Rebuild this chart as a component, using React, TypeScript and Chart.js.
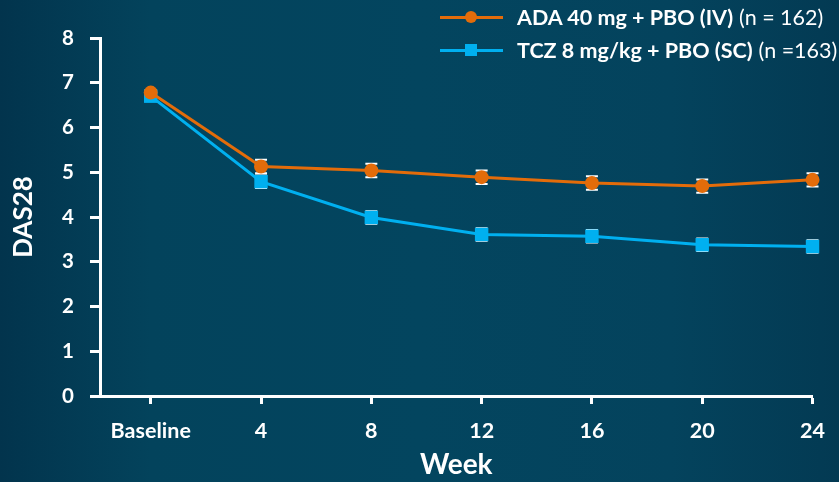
import React, { useEffect, useRef } from "react";
import { Chart, registerables } from "chart.js";

Chart.register(...registerables);

const categories = ["Baseline", "4", "8", "12", "16", "20", "24"];
const weeks = [0, 4, 8, 12, 16, 20, 24];
const adaValues = [6.78, 5.13, 5.04, 4.89, 4.76, 4.69, 4.83];
const adaErrors = [0.06, 0.15, 0.15, 0.15, 0.15, 0.15, 0.15];
const tczValues = [6.7, 4.79, 3.99, 3.61, 3.57, 3.38, 3.34];
const tczErrors = [0.06, 0.14, 0.14, 0.14, 0.14, 0.14, 0.14];
const yTicks = [0, 1, 2, 3, 4, 5, 6, 7, 8];

const ORANGE = "#E36C0A";
const BLUE = "#00B0F0";
const FONT = "Lato, 'Open Sans', sans-serif";

const errorBarPlugin = {
  id: "errorBars",
  beforeDatasetsDraw(chart: any) {
    const { ctx, scales } = chart;
    const x = scales.x;
    const y = scales.y;
    const sets = [
      { v: adaValues, e: adaErrors },
      { v: tczValues, e: tczErrors },
    ];
    ctx.save();
    ctx.strokeStyle = "#ffffff";
    ctx.lineWidth = 2;
    sets.forEach((s) => {
      s.v.forEach((val, i) => {
        const px = x.getPixelForValue(weeks[i]);
        const top = y.getPixelForValue(val + s.e[i]);
        const bot = y.getPixelForValue(val - s.e[i]);
        ctx.beginPath();
        ctx.moveTo(px, top);
        ctx.lineTo(px, bot);
        ctx.moveTo(px - 6, top);
        ctx.lineTo(px + 6, top);
        ctx.moveTo(px - 6, bot);
        ctx.lineTo(px + 6, bot);
        ctx.stroke();
      });
    });
    ctx.restore();
  },
};

function LegendRow({ color, marker, bold, normal, top }: any) {
  return (
    <div
      style={{
        position: "absolute",
        left: 440,
        top: top,
        height: 24,
        display: "flex",
        alignItems: "center",
        whiteSpace: "nowrap",
        fontFamily: FONT,
        fontSize: 21.5,
        color: "#ffffff",
      }}
    >
      <div style={{ position: "relative", width: 63, height: 24, marginRight: 14 }}>
        <div
          style={{
            position: "absolute",
            left: 0,
            top: 10.5,
            width: 63,
            height: 3,
            background: color,
          }}
        />
        <div
          style={{
            position: "absolute",
            left: 25,
            top: 6,
            width: 12,
            height: 12,
            background: color,
            borderRadius: marker === "circle" ? "50%" : 0,
          }}
        />
      </div>
      <span style={{ fontWeight: 700 }}>{bold}</span>
      <span style={{ fontWeight: 400, marginLeft: 6 }}>{normal}</span>
    </div>
  );
}

export default function App() {
  const canvasRef = useRef<HTMLCanvasElement | null>(null);

  useEffect(() => {
    if (!canvasRef.current) return;
    const chart = new Chart(canvasRef.current, {
      type: "line",
      data: {
        labels: categories,
        datasets: [
          {
            label: "ADA 40 mg + PBO (IV) (n = 162)",
            data: weeks.map((w, i) => ({ x: w, y: adaValues[i] })),
            borderColor: ORANGE,
            backgroundColor: ORANGE,
            borderWidth: 3,
            pointStyle: "circle",
            pointRadius: 7,
            pointBorderWidth: 0,
            tension: 0,
            clip: false as any,
          },
          {
            label: "TCZ 8 mg/kg + PBO (SC) (n =163)",
            data: weeks.map((w, i) => ({ x: w, y: tczValues[i] })),
            borderColor: BLUE,
            backgroundColor: BLUE,
            borderWidth: 3,
            pointStyle: "rect",
            pointRadius: 9.5,
            pointBorderWidth: 0,
            tension: 0,
            clip: false as any,
          },
        ],
      },
      options: {
        responsive: false,
        animation: false,
        layout: { padding: { top: 38, right: 21, left: 0, bottom: 0 } },
        plugins: {
          legend: { display: false },
          tooltip: { enabled: false },
        },
        scales: {
          x: {
            type: "linear",
            min: -1.84,
            max: 24,
            afterBuildTicks: (scale: any) => {
              scale.ticks = weeks.map((w) => ({ value: w }));
            },
            afterFit: (scale: any) => {
              scale.height = 86;
            },
            ticks: {
              color: "#ffffff",
              font: { family: FONT, size: 21.5, weight: "bold" },
              padding: 14,
              maxRotation: 0,
              autoSkip: false,
              callback: (v: any) => {
                const i = weeks.indexOf(Number(v));
                return i >= 0 ? categories[i] : "";
              },
            },
            grid: {
              drawOnChartArea: false,
              drawTicks: true,
              tickLength: 8,
              tickWidth: 3,
              tickColor: "#ffffff",
            },
            border: { display: true, color: "#ffffff", width: 3 },
            title: {
              display: true,
              text: "Week",
              color: "#ffffff",
              font: { family: FONT, size: 28, weight: "bold" },
              padding: { top: 0, bottom: 0 },
            },
          },
          y: {
            min: 0,
            max: 8,
            afterBuildTicks: (scale: any) => {
              scale.ticks = yTicks.map((v) => ({ value: v }));
            },
            afterFit: (scale: any) => {
              scale.width = 100;
            },
            ticks: {
              color: "#ffffff",
              font: { family: FONT, size: 20.5, weight: "bold" },
              padding: 16,
            },
            grid: {
              drawOnChartArea: false,
              drawTicks: true,
              tickLength: 10,
              tickWidth: 3,
              tickColor: "#ffffff",
            },
            border: { display: true, color: "#ffffff", width: 3 },
            title: {
              display: true,
              text: "DAS28",
              color: "#ffffff",
              font: { family: FONT, size: 26, weight: "bold" },
              padding: { top: 8, bottom: 0 },
            },
          },
        },
      },
      plugins: [errorBarPlugin],
    } as any);
    return () => chart.destroy();
  }, []);

  return (
    <div
      style={{
        position: "fixed",
        left: 0,
        top: 0,
        width: 839,
        height: 482,
        overflow: "hidden",
        background:
          "linear-gradient(90deg, #02344d 0%, #03435c 18%, #03455f 50%, #04435d 80%, #033a53 100%)",
      }}
    >
      <canvas ref={canvasRef} width={839} height={482} style={{ display: "block" }} />
      <LegendRow color={ORANGE} marker="circle" bold="ADA 40 mg + PBO (IV)" normal="(n = 162)" top={5} />
      <LegendRow color={BLUE} marker="rect" bold="TCZ 8 mg/kg + PBO (SC)" normal="(n =163)" top={38} />
    </div>
  );
}
